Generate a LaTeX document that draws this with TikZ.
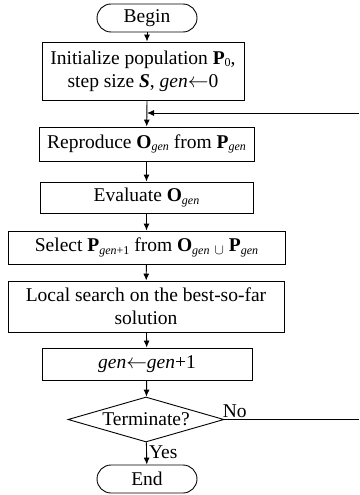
\documentclass[tikz,border=0pt]{standalone}
\usepackage{fontspec}
\setmainfont{Liberation Serif}
\usetikzlibrary{arrows.meta, shapes.geometric}
\newcommand{\lowsub}[1]{\raisebox{-0.25ex}{\fontsize{12}{12}\selectfont #1}}

\begin{document}
\begin{tikzpicture}[x=1pt, y=-1pt, >={Latex[length=7pt, width=6pt]}, line width=0.9pt,
    font=\fontsize{19.5}{23}\selectfont,
    proc/.style={draw, rectangle, inner sep=0pt, align=center},
    term/.style={draw, rectangle, rounded corners=14pt, minimum width=100pt, minimum height=28pt, inner sep=0pt},
    test/.style={draw, diamond, minimum width=156pt, minimum height=45pt, inner sep=0pt, aspect=3.4}]
  \useasboundingbox (0,0) rectangle (359,495);
  % steps of the loop
  \node[term] (begin) at (147,18) {Begin};
  \node[proc, minimum width=202pt, minimum height=58pt] (init) at (143,71)
    {Initialize population \textbf{P}\lowsub{0},\\ step size \textbf{\textit{S}}, \textit{gen}$\leftarrow$0};
  \node[proc, minimum width=215pt, minimum height=34pt] (repro) at (146.5,144)
    {Reproduce \textbf{O}\lowsub{\textit{gen}} from \textbf{P}\lowsub{\textit{gen}}};
  \node[proc, minimum width=213pt, minimum height=31pt] (eval) at (146.5,197.5)
    {Evaluate \textbf{O}\lowsub{\textit{gen}}};
  \node[proc, minimum width=277pt, minimum height=33pt] (select) at (146.5,247.5)
    {Select \textbf{P}\lowsub{\textit{gen}+1} from \textbf{O}\lowsub{\textit{gen}} \raisebox{-0.3ex}{$\scriptstyle\cup$} \textbf{P}\lowsub{\textit{gen}}};
  \node[proc, minimum width=276pt, minimum height=51pt] (local) at (146,306.5)
    {Local search on the best-so-far\\ solution};
  \node[proc, minimum width=210pt, minimum height=32pt] (incr) at (147,364)
    {\textit{gen}$\leftarrow$\textit{gen}+1};
  \node[test] (stop) at (146,419.5) {Terminate?};
  \node[term] (end) at (147,479) {End};
  % loop back (cut at the right edge)
  \coordinate (join) at (147,113);
  \coordinate (loopin) at (359,113);
  \coordinate (loopout) at (359,419.5);
  % flow
  \draw[->] (begin) -- (begin |- init.north);
  \draw[->] (begin |- init.south) -- (repro);
  \draw[->] (loopin) -- (join);
  \draw[->] (repro) -- (eval);
  \draw[->] (eval) -- (select);
  \draw[->] (select) -- (local);
  \draw[->] (local) -- (incr);
  \draw[->] (incr) -- (stop);
  \draw[->] (stop) -- (end) node[pos=0.45, right, inner sep=2pt] (yes) {Yes};
  \draw (stop.east) -- (loopout) node[pos=0.0, above right, inner sep=1pt, xshift=-3pt] (no) {No};
\end{tikzpicture}
\end{document}
